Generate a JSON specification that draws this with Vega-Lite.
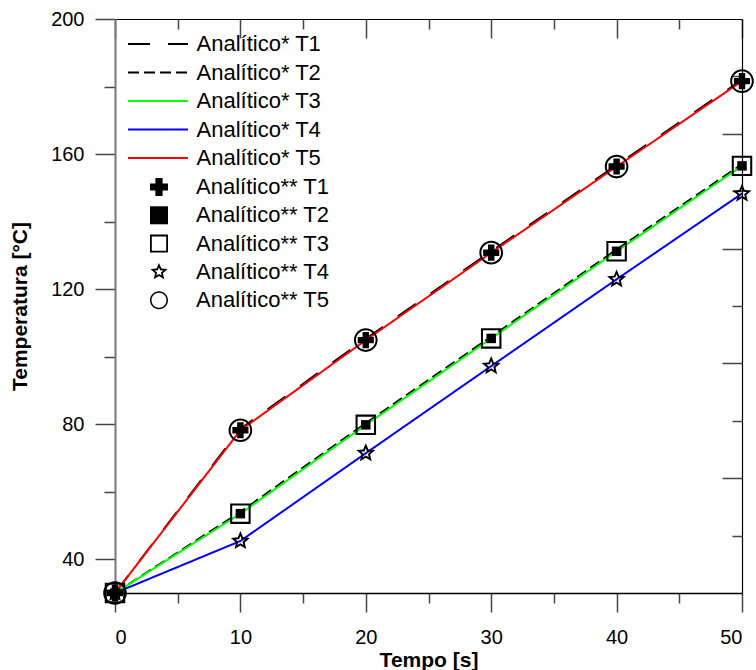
{
  "$schema": "https://vega.github.io/schema/vega-lite/v6.json",
  "width": 627,
  "height": 574,
  "autosize": "none",
  "padding": {"left": 115, "top": 19, "right": 14, "bottom": 77},
  "background": "white",
  "config": {
    "font": "Liberation Sans",
    "view": {"stroke": null},
    "axis": {
      "labelFont": "Liberation Sans", "labelFontSize": 20, "labelColor": "#000",
      "titleFont": "Liberation Sans", "titleFontSize": 21, "titleFontWeight": "bold", "titleColor": "#000",
      "grid": false, "domainColor": "#000", "domainWidth": 1.5, "tickColor": "#444", "tickWidth": 1.5
    },
    "legend": {
      "labelFont": "Liberation Sans", "labelFontSize": 22, "labelColor": "#000",
      "padding": 0, "rowPadding": 6.5
    }
  },
  "datasets": {
    "linhas": [
      {"t": 0, "serie": "Analítico* T1", "v": 30},
      {"t": 10, "serie": "Analítico* T1", "v": 78.6},
      {"t": 20, "serie": "Analítico* T1", "v": 105.3},
      {"t": 30, "serie": "Analítico* T1", "v": 131.2},
      {"t": 40, "serie": "Analítico* T1", "v": 156.7},
      {"t": 50, "serie": "Analítico* T1", "v": 182.0},
      {"t": 0, "serie": "Analítico* T2", "v": 30},
      {"t": 10, "serie": "Analítico* T2", "v": 54.0},
      {"t": 20, "serie": "Analítico* T2", "v": 80.3},
      {"t": 30, "serie": "Analítico* T2", "v": 105.9},
      {"t": 40, "serie": "Analítico* T2", "v": 131.7},
      {"t": 50, "serie": "Analítico* T2", "v": 157.0},
      {"t": 0, "serie": "Analítico* T3", "v": 30},
      {"t": 10, "serie": "Analítico* T3", "v": 53.5},
      {"t": 20, "serie": "Analítico* T3", "v": 79.8},
      {"t": 30, "serie": "Analítico* T3", "v": 105.4},
      {"t": 40, "serie": "Analítico* T3", "v": 131.2},
      {"t": 50, "serie": "Analítico* T3", "v": 156.5},
      {"t": 0, "serie": "Analítico* T4", "v": 30},
      {"t": 10, "serie": "Analítico* T4", "v": 45.4},
      {"t": 20, "serie": "Analítico* T4", "v": 71.4},
      {"t": 30, "serie": "Analítico* T4", "v": 97.2},
      {"t": 40, "serie": "Analítico* T4", "v": 122.9},
      {"t": 50, "serie": "Analítico* T4", "v": 148.3},
      {"t": 0, "serie": "Analítico* T5", "v": 30},
      {"t": 10, "serie": "Analítico* T5", "v": 78.2},
      {"t": 20, "serie": "Analítico* T5", "v": 104.9},
      {"t": 30, "serie": "Analítico* T5", "v": 130.8},
      {"t": 40, "serie": "Analítico* T5", "v": 156.3},
      {"t": 50, "serie": "Analítico* T5", "v": 181.6}
    ],
    "pontos": [
      {"t": 0, "serie": "Analítico** T1", "v": 30},
      {"t": 10, "serie": "Analítico** T1", "v": 78.2},
      {"t": 20, "serie": "Analítico** T1", "v": 104.9},
      {"t": 30, "serie": "Analítico** T1", "v": 130.8},
      {"t": 40, "serie": "Analítico** T1", "v": 156.3},
      {"t": 50, "serie": "Analítico** T1", "v": 181.6},
      {"t": 0, "serie": "Analítico** T2", "v": 30},
      {"t": 10, "serie": "Analítico** T2", "v": 53.5},
      {"t": 20, "serie": "Analítico** T2", "v": 79.8},
      {"t": 30, "serie": "Analítico** T2", "v": 105.4},
      {"t": 40, "serie": "Analítico** T2", "v": 131.2},
      {"t": 50, "serie": "Analítico** T2", "v": 156.5},
      {"t": 0, "serie": "Analítico** T3", "v": 30},
      {"t": 10, "serie": "Analítico** T3", "v": 53.5},
      {"t": 20, "serie": "Analítico** T3", "v": 79.8},
      {"t": 30, "serie": "Analítico** T3", "v": 105.4},
      {"t": 40, "serie": "Analítico** T3", "v": 131.2},
      {"t": 50, "serie": "Analítico** T3", "v": 156.5},
      {"t": 0, "serie": "Analítico** T4", "v": 30},
      {"t": 10, "serie": "Analítico** T4", "v": 45.4},
      {"t": 20, "serie": "Analítico** T4", "v": 71.4},
      {"t": 30, "serie": "Analítico** T4", "v": 97.2},
      {"t": 40, "serie": "Analítico** T4", "v": 122.9},
      {"t": 50, "serie": "Analítico** T4", "v": 148.3},
      {"t": 0, "serie": "Analítico** T5", "v": 30},
      {"t": 10, "serie": "Analítico** T5", "v": 78.2},
      {"t": 20, "serie": "Analítico** T5", "v": 104.9},
      {"t": 30, "serie": "Analítico** T5", "v": 130.8},
      {"t": 40, "serie": "Analítico** T5", "v": 156.3},
      {"t": 50, "serie": "Analítico** T5", "v": 181.6}
    ]
  },
  "resolve": {"axis": {"x": "independent", "y": "independent"}},
  "layer": [
    {
      "data": {"name": "linhas"},
      "mark": {"type": "line", "strokeWidth": 2},
      "encoding": {
        "x": {
          "field": "t", "type": "quantitative",
          "scale": {"domain": [0, 50], "nice": false, "zero": false},
          "axis": {
            "orient": "bottom", "title": "Tempo [s]",
            "values": [0, 5, 10, 15, 20, 25, 30, 35, 40, 45, 50],
            "labelExpr": "datum.value % 10 === 0 ? datum.label : ''",
            "tickSize": {"condition": {"test": "datum.value % 10 === 0", "value": 19}, "value": 10},
            "labelPadding": 15, "titlePadding": 2, "domainColor": "#000"
          }
        },
        "y": {
          "field": "v", "type": "quantitative",
          "scale": {"domain": [30, 200], "nice": false, "zero": false},
          "axis": {
            "orient": "left", "title": "Temperatura [°C]",
            "values": [40, 60, 80, 100, 120, 140, 160, 180, 200],
            "labelExpr": "datum.value % 40 === 0 ? datum.label : ''",
            "tickSize": {"condition": {"test": "datum.value % 40 === 0", "value": 20}, "value": 11},
            "labelPadding": 11, "titlePadding": 20, "domainColor": "#777", "domainWidth": 2
          }
        },
        "color": {
          "field": "serie", "type": "nominal",
          "scale": {
            "domain": ["Analítico* T1", "Analítico* T2", "Analítico* T3", "Analítico* T4", "Analítico* T5"],
            "range": ["#000000", "#000000", "#00ff00", "#0000ff", "#ff0000"]
          },
          "legend": {"title": null, "orient": "none", "legendX": 32, "legendY": 14, "symbolType": "M-3,0H3", "symbolSize": 400, "symbolStrokeWidth": 2, "labelOffset": 27.5}
        },
        "strokeDash": {
          "field": "serie", "type": "nominal",
          "scale": {
            "domain": ["Analítico* T1", "Analítico* T2", "Analítico* T3", "Analítico* T4", "Analítico* T5"],
            "range": [[22, 18], [11, 5], [1, 0], [1, 0], [1, 0]]
          },
          "legend": {"title": null, "orient": "none", "legendX": 32, "legendY": 14, "symbolType": "M-3,0H3", "symbolSize": 400, "symbolStrokeWidth": 2, "labelOffset": 27.5}
        }
      }
    },
    {
      "data": {"name": "pontos"},
      "encoding": {
        "x": {
          "field": "t", "type": "quantitative",
          "scale": {"domain": [0, 50], "nice": false, "zero": false},
          "axis": {
            "orient": "top", "title": null, "labels": false,
            "values": [0, 5, 10, 15, 20, 25, 30, 35, 40, 45, 50],
            "tickSize": {"condition": {"test": "datum.value % 10 === 0", "value": -19}, "value": -10},
            "domainColor": "#000", "domainWidth": 1.2
          }
        },
        "y": {
          "field": "v", "type": "quantitative",
          "scale": {"domain": [30, 200], "nice": false, "zero": false},
          "axis": {
            "orient": "right", "title": null, "labels": false,
            "values": [47, 64, 81, 98, 115, 132, 149, 166, 183],
            "tickSize": {"condition": {"test": "(datum.value - 30) % 34 === 0", "value": -20}, "value": -10},
            "domainColor": "#000", "domainWidth": 1.2
          }
        },
        "shape": {
          "field": "serie", "type": "nominal",
          "scale": {
            "domain": ["Analítico** T1", "Analítico** T2", "Analítico** T3", "Analítico** T4", "Analítico** T5"],
            "range": [
              "cross",
              "square",
              "M-1,-1H1V1H-1ZM-0.8,-0.8V0.8H0.8V-0.8Z",
              "M0,-1L0.265,-0.364L0.951,-0.309L0.428,0.139L0.588,0.809L0,0.45L-0.588,0.809L-0.428,0.139L-0.951,-0.309L-0.265,-0.364ZM0,-0.5L-0.1325,-0.182L-0.4755,-0.1545L-0.214,0.0695L-0.294,0.4045L0,0.225L0.294,0.4045L0.214,0.0695L0.4755,-0.1545L0.1325,-0.182Z",
              "M1,0C1,0.552,0.552,1,0,1C-0.552,1,-1,0.552,-1,0C-1,-0.552,-0.552,-1,0,-1C0.552,-1,1,-0.552,1,0ZM0.83,0C0.83,-0.458,0.458,-0.83,0,-0.83C-0.458,-0.83,-0.83,-0.458,-0.83,0C-0.83,0.458,-0.458,0.83,0,0.83C0.458,0.83,0.83,0.458,0.83,0Z"
            ]
          },
          "legend": {
            "title": null, "orient": "none", "legendX": 33, "legendY": 157, "symbolSize": 324, "rowPadding": 6.3,
            "symbolFillColor": "#000", "symbolStrokeWidth": 0, "labelOffset": 26
          }
        }
      },
      "layer": [
        {
          "transform": [{"filter": {"field": "serie", "equal": "Analítico** T1"}}],
          "mark": {"type": "point", "filled": true, "size": 260, "color": "#000", "opacity": 1}
        },
        {
          "transform": [{"filter": {"field": "serie", "equal": "Analítico** T2"}}],
          "mark": {"type": "point", "filled": true, "size": 90, "color": "#000", "opacity": 1}
        },
        {
          "transform": [{"filter": {"field": "serie", "equal": "Analítico** T3"}}],
          "mark": {"type": "point", "filled": true, "size": 420, "color": "#000", "opacity": 1}
        },
        {
          "transform": [{"filter": {"field": "serie", "equal": "Analítico** T4"}}],
          "mark": {"type": "point", "filled": true, "size": 400, "color": "#000", "opacity": 1}
        },
        {
          "transform": [{"filter": {"field": "serie", "equal": "Analítico** T5"}}],
          "mark": {"type": "point", "filled": true, "size": 560, "color": "#000", "opacity": 1}
        }
      ]
    }
  ]
}
